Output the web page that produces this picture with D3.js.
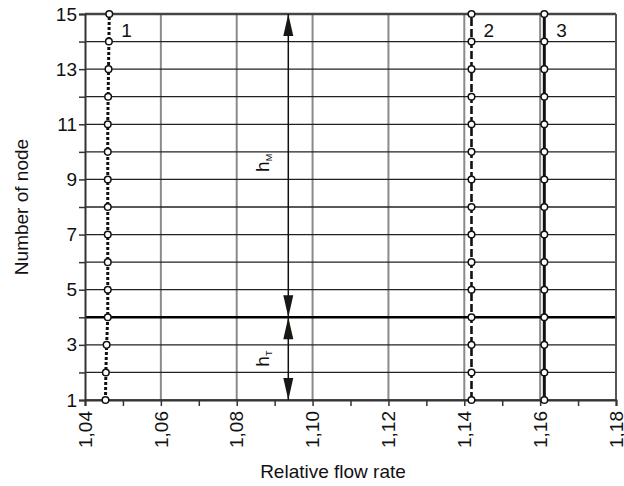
<!DOCTYPE html>
<html>
<head>
  <title>Relative flow rate by node</title>
  <script src="https://d3js.org/d3.v7.min.js"></script>
  <style>
    body { margin: 0; background: #fff; }
    text { font-family: Arial, "Liberation Sans", sans-serif; fill: #111; }
  </style>
</head>
<body>
  <div id="chart"></div>
  <script>
    // node numbers (y) and relative flow rate of each curve (x)
    const nodes = [1, 2, 3, 4, 5, 6, 7, 8, 9, 10, 11, 12, 13, 14, 15];
    const curve1 = [1.0454, 1.0455, 1.0457, 1.0460, 1.0460, 1.0460, 1.0460, 1.0460,
                    1.0460, 1.0460, 1.0460, 1.0461, 1.0462, 1.0463, 1.0464];
    const curve2 = [1.1419, 1.1419, 1.1419, 1.1419, 1.1419, 1.1419, 1.1419, 1.1419,
                    1.1419, 1.1419, 1.1419, 1.1419, 1.1419, 1.1419, 1.1419];
    const curve3 = [1.1611, 1.1611, 1.1611, 1.1611, 1.1611, 1.1611, 1.1611, 1.1611,
                    1.1611, 1.1611, 1.1611, 1.1611, 1.1611, 1.1611, 1.1611];
    const curveNames = ["1", "2", "3"];
    const xTicks = [1.04, 1.06, 1.08, 1.10, 1.12, 1.14, 1.16, 1.18];
    const xMinor = [1.05, 1.07, 1.09, 1.11, 1.13, 1.15, 1.17];
    const yLabels = [1, 3, 5, 7, 9, 11, 13, 15];
    const boundaryNode = 4;   // split between h_T and h_M
    const arrowX = 1.0936;

    const width = 624, height = 486;
    const margin = {top: 14, right: 8, bottom: 86, left: 85};

    const svg = d3.select("#chart").append("svg")
      .attr("width", width)
      .attr("height", height);

    const x = d3.scaleLinear().domain([1.04, 1.18]).range([margin.left, width - margin.right]);
    const y = d3.scaleLinear().domain([1, 15]).range([height - margin.bottom, margin.top]);

    const fmt = d => d3.format(".2f")(d).replace(".", ",");

    // vertical grid (gray)
    svg.append("g")
      .selectAll("line")
      .data(xTicks.slice(1, -1))
      .join("line")
      .attr("x1", d => x(d)).attr("x2", d => x(d))
      .attr("y1", y(1)).attr("y2", y(15))
      .attr("stroke", "#8a8a8a")
      .attr("stroke-width", 2);

    // horizontal grid (dark)
    svg.append("g")
      .selectAll("line")
      .data(nodes)
      .join("line")
      .attr("x1", x(1.04)).attr("x2", x(1.18))
      .attr("y1", d => y(d)).attr("y2", d => y(d))
      .attr("stroke", "#222")
      .attr("stroke-width", 1.3);

    // boundary line at node 4
    svg.append("line")
      .attr("x1", x(1.04)).attr("x2", x(1.18))
      .attr("y1", y(boundaryNode)).attr("y2", y(boundaryNode))
      .attr("stroke", "#000")
      .attr("stroke-width", 2.4);

    // frame: top and right
    svg.append("line")
      .attr("x1", x(1.04)).attr("x2", x(1.18))
      .attr("y1", y(15)).attr("y2", y(15))
      .attr("stroke", "#444").attr("stroke-width", 2.5);
    svg.append("line")
      .attr("x1", x(1.18)).attr("x2", x(1.18))
      .attr("y1", y(1)).attr("y2", y(15))
      .attr("stroke", "#555").attr("stroke-width", 2);

    // x axis
    const xAxis = svg.append("g")
      .attr("transform", `translate(0,${y(1)})`)
      .call(d3.axisBottom(x).tickValues(xTicks.concat(xMinor)).tickSize(6).tickFormat(""));
    xAxis.select(".domain").attr("stroke", "#333").attr("stroke-width", 2);
    xAxis.selectAll(".tick line").attr("stroke", "#333").attr("stroke-width", 1.5);

    svg.append("g")
      .selectAll("text")
      .data(xTicks)
      .join("text")
      .attr("transform", d => `translate(${x(d)},${y(1) + 11}) rotate(-90)`)
      .attr("text-anchor", "end")
      .attr("dy", "0.35em")
      .style("font-size", "19px")
      .text(fmt);

    // y axis
    const yAxis = svg.append("g")
      .attr("transform", `translate(${x(1.04)},0)`)
      .call(d3.axisLeft(y).tickValues(nodes).tickSize(6)
        .tickFormat(d => yLabels.includes(d) ? d : ""));
    yAxis.select(".domain").attr("stroke", "#333").attr("stroke-width", 2);
    yAxis.selectAll(".tick line").attr("stroke", "#333").attr("stroke-width", 1.5);
    yAxis.selectAll(".tick text")
      .attr("x", -8)
      .style("font-size", "19px")
      .style("font-family", "Arial, 'Liberation Sans', sans-serif")
      .attr("fill", "#111");

    // curves
    const curves = [
      {vals: curve1, dash: "3,2", w: 3},
      {vals: curve2, dash: "8,3", w: 2.6},
      {vals: curve3, dash: null, w: 3}
    ];
    const line = d3.line().x(d => x(d[0])).y(d => y(d[1]));

    curves.forEach((c, i) => {
      const pts = c.vals.map((v, j) => [v, nodes[j]]);
      svg.append("path")
        .datum(pts)
        .attr("d", line)
        .attr("fill", "none")
        .attr("stroke", "#111")
        .attr("stroke-width", c.w)
        .attr("stroke-dasharray", c.dash);
      svg.append("g")
        .selectAll("circle")
        .data(pts)
        .join("circle")
        .attr("cx", d => x(d[0]))
        .attr("cy", d => y(d[1]))
        .attr("r", 3.3)
        .attr("fill", "#fff")
        .attr("stroke", "#111")
        .attr("stroke-width", 1.5);
      svg.append("text")
        .attr("x", x(c.vals[14]) + 12)
        .attr("y", y(14.15))
        .style("font-size", "19px")
        .text(curveNames[i]);
    });

    // dimension arrows
    const ax = x(arrowX);
    svg.append("line")
      .attr("x1", ax).attr("x2", ax)
      .attr("y1", y(15)).attr("y2", y(1))
      .attr("stroke", "#111").attr("stroke-width", 1.5);

    const head = (yTip, dir) => {
      // dir = -1 points up, +1 points down
      const L = 22, W = 5;
      const yb = yTip - dir * L;
      return `M${ax},${yTip}L${ax - W},${yb}L${ax + W},${yb}Z`;
    };
    [[y(15), -1], [y(boundaryNode), 1], [y(boundaryNode), -1], [y(1), 1]].forEach(h => {
      svg.append("path").attr("d", head(h[0], h[1])).attr("fill", "#1a1612");
    });

    const dimLabel = (yc, sub) => {
      const t = svg.append("text")
        .attr("transform", `translate(${ax - 19},${yc}) rotate(-90)`)
        .attr("text-anchor", "middle")
        .style("font-size", "19px");
      t.append("tspan").text("h");
      t.append("tspan").attr("dy", "0.25em").style("font-size", "9px").text(sub);
    };
    dimLabel(y(9.6), "M");
    dimLabel(y(2.5), "T");

    // axis titles
    svg.append("text")
      .attr("x", 333).attr("y", 478)
      .attr("text-anchor", "middle")
      .style("font-size", "19px")
      .text("Relative flow rate");
    svg.append("text")
      .attr("transform", `translate(28,${y(8)}) rotate(-90)`)
      .attr("text-anchor", "middle")
      .style("font-size", "19px")
      .text("Number of node");
  </script>
</body>
</html>
